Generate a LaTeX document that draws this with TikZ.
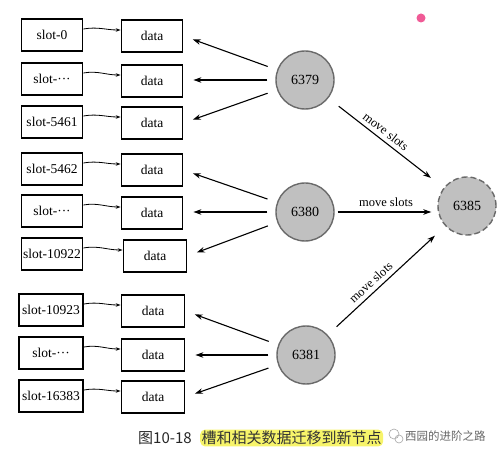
\documentclass[tikz,border=0pt]{standalone}
\usepackage{fontspec}
\setmainfont{Liberation Serif}
\newfontfamily\cjk{Noto Sans CJK SC}
\usetikzlibrary{arrows.meta}
\definecolor{cfill}{HTML}{C0C0C0}
\definecolor{cedge}{HTML}{6A6A6A}
\definecolor{hl}{HTML}{F7F46A}
\begin{document}
\begin{tikzpicture}[x=1pt,y=-1pt,
  slotbox/.style={draw=black,line width=1.8pt,minimum width=61pt,minimum height=32pt,inner sep=1pt,font=\fontsize{13.5}{14}\selectfont},
  databox/.style={draw=black,line width=1.8pt,minimum width=61pt,minimum height=32pt,inner sep=1pt,font=\fontsize{13.5}{14}\selectfont},
  srv/.style={circle,draw=cedge,fill=cfill,line width=1.4pt,minimum size=58pt,inner sep=0pt,font=\fontsize{14}{15}\selectfont},
  sarr/.style={-{Stealth[length=5pt,width=3.5pt]},line width=0.8pt},
  darr/.style={-{Stealth[length=8pt,width=5.5pt]},line width=1.1pt,shorten >=10pt,shorten <=10pt},
  marr/.style={-{Stealth[length=8pt,width=5.5pt]},line width=1.7pt,shorten >=10pt,shorten <=8pt},
  mvarr/.style={-{Stealth[length=8pt,width=5.5pt]},line width=1.1pt},
  mvlab/.style={font=\fontsize{12.5}{13}\selectfont,sloped,above=1pt}
]
\useasboundingbox (0,0) rectangle (504,457);
% slot boxes
\node[slotbox] (s1) at (52,35) {slot-0};
\node[slotbox] (s2) at (52,79) {slot-\textperiodcentered\textperiodcentered\textperiodcentered};
\node[slotbox] (s3) at (52,122) {slot-5461};
\node[slotbox] (s4) at (52,169) {slot-5462};
\node[slotbox] (s5) at (52,211) {slot-\textperiodcentered\textperiodcentered\textperiodcentered};
\node[slotbox] (s6) at (52,254) {slot-10922};
\node[slotbox,minimum width=64pt] (s7) at (51,310) {slot-10923};
\node[slotbox,minimum width=64pt] (s8) at (51,353) {slot-\textperiodcentered\textperiodcentered\textperiodcentered};
\node[slotbox,minimum width=64pt] (s9) at (51,396) {slot-16383};
% data boxes
\node[databox] (d1) at (152,36) {data};
\node[databox] (d2) at (152,81) {data};
\node[databox] (d3) at (152,123) {data};
\node[databox] (d4) at (152,170) {data};
\node[databox] (d5) at (152,213) {data};
\node[databox,minimum width=63pt] (d6) at (155,256) {data};
\node[databox,minimum width=63pt] (d7) at (153,311) {data};
\node[databox,minimum width=63pt] (d8) at (153,355) {data};
\node[databox,minimum width=63pt] (d9) at (153,397) {data};
% slot -> data
\foreach \i in {1,...,9}{
  \draw[sarr] ([yshift=6pt]s\i.east) to[out=10,in=180] ([yshift=6pt]d\i.west);
}
% servers
\node[srv] (c1) at (305,80) {6379};
\node[srv] (c2) at (305,212) {6380};
\node[srv] (c3) at (306,355) {6381};
\node[srv,dashed,dash pattern=on 6pt off 3pt] (c4) at (467,206) {6385};
% server -> data
\draw[darr] (c1) -- (d1.east);
\draw[marr] (c1.west) -- (c1.west -| d2.east);
\draw[darr] (c1) -- (d3.east);
\draw[darr] (c2) -- (d4.east);
\draw[marr] (c2.west) -- (c2.west -| d5.east);
\draw[darr] (c2) -- (d6.east);
\draw[darr] (c3) -- (d7.east);
\draw[marr] (c3.west) -- (c3.west -| d8.east);
\draw[darr] (c3) -- (d9.east);
% move slots
\draw[mvarr,shorten <=13pt,shorten >=16pt] (c1) -- node[mvlab,pos=0.45] {move slots} (c4);
\draw[mvarr,shorten <=3pt,shorten >=6pt] (c2.east) -- node[mvlab] {move slots} (c2.east -| c4.west);
\draw[mvarr,shorten <=12pt,shorten >=14pt] (c3) -- node[mvlab,pos=0.42] {move slots} (c4);
% caption
\node[font=\cjk\fontsize{15}{16}\selectfont,text=black!85,anchor=west,inner sep=0pt] (fig) at (138,438) {图10-18};
\node[font=\cjk\fontsize{15}{16}\selectfont,fill=hl,rounded corners=5pt,anchor=west,inner sep=1.5pt,text=black!80] (cap) at (200,438) {槽和相关数据迁移到新节点};
\node[font=\cjk\fontsize{11.5}{12}\selectfont,text=black!60,anchor=west,inner sep=0pt] (wm) at (405,436) {西园的进阶之路};
\draw[black!35,line width=0.6pt] (394,434) circle (5pt) (399,439) circle (4pt);
% pink dot
\fill[color={rgb,255:red,240;green,90;blue,150}] (421,18) circle (4.5pt);
\end{tikzpicture}
\end{document}
